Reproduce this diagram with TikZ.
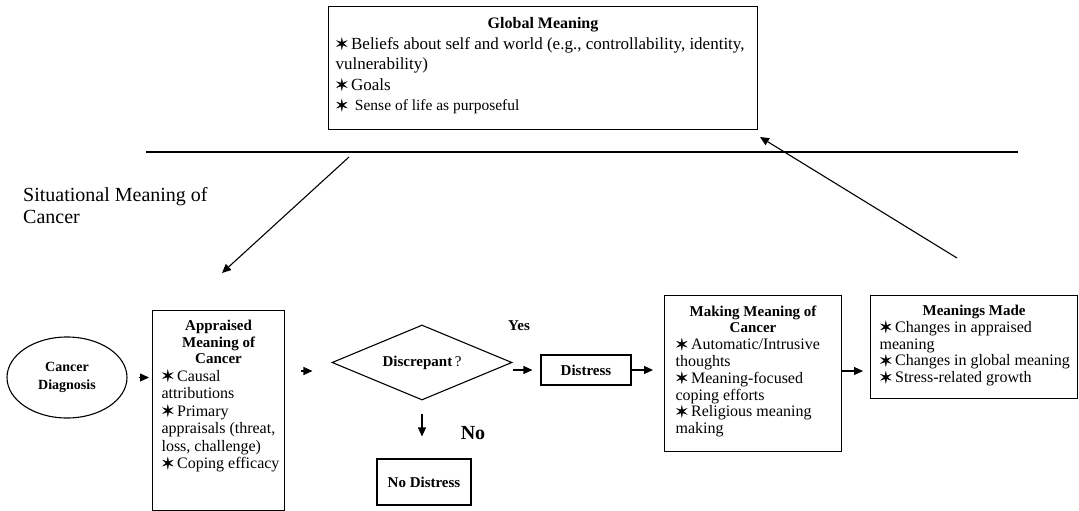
\documentclass[tikz,border=0pt]{standalone}
\usepackage{fontspec}
\setmainfont{Liberation Serif}
\newfontfamily\symf{DejaVu Sans}[FakeBold=2.5]
\usetikzlibrary{shapes.geometric,arrows.meta}
\newcommand\st{{\symf\fontsize{15}{15}\selectfont ✶}\hspace{3pt}}
\newcommand\fs[2]{\fontsize{#1}{#2}\selectfont}
\newcommand\boxtext[4]{\parbox[c][#1][t]{#2}{\hyphenpenalty=10000 \exhyphenpenalty=10000 \rule{0pt}{#3}#4}}
\tikzset{
  box/.style={draw, rectangle, line width=1.1pt, inner sep=0pt},
  arr/.style={line width=1.1pt, -{Triangle[length=9pt,width=8pt]}},
}
\begin{document}
\begin{tikzpicture}[x=1pt,y=-1pt]
\useasboundingbox (0,0) rectangle (1079,511);

% Global meaning
\node[box, anchor=north west, inner xsep=7pt] (gbox) at (328,6)
 {\boxtext{123pt}{415pt}{22pt}{{\centering\bfseries\fs{16}{17}Global Meaning\par}%
 \fs{17}{20.5}\raggedright\st Beliefs~about~self~and~world~(e.g.,~controllability,~identity,\\
 vulnerability)\\
 \st Goals\\
 {\fs{15.5}{20.5}\st\ Sense~of~life~as~purposeful}\par}};

\draw[line width=1.1pt] (146,152) -- (1018,152);

\node[anchor=base west, align=left, inner sep=0pt, font=\fs{20}{22}] (sit) at (23,223)
 {Situational Meaning of\\Cancer};

% Cancer diagnosis
\node[draw, ellipse, line width=1.1pt, minimum width=120pt, minimum height=81pt,
 inner sep=0pt, align=center, font=\bfseries\fs{14}{18}] (diag) at (67,377.5)
 {Cancer\\Diagnosis};

% Appraised meaning
\node[box, anchor=north west, inner xsep=9pt] (appr) at (152,310)
 {\boxtext{200pt}{114pt}{20pt}{{\centering\bfseries\fs{15}{16.5}Appraised\\Meaning~of\\Cancer\par}%
 \fs{16}{17.5}\raggedright\st Causal\\
 attributions\\
 \st Primary\\
 \mbox{appraisals (threat,}\\
 \mbox{loss, challenge)}\\
 \mbox{\st Coping efficacy}\par}};

% Diamond
\node[draw, diamond, aspect=2.4, minimum width=180pt, minimum height=75pt,
 inner sep=0pt, line width=1.1pt, font=\fs{15}{17}] (dia) at (422,362.5)
 {\textbf{Discrepant}\,?};

\node[font=\bfseries\fs{15}{17}] (yes) at (519,326) {Yes};
\node[font=\bfseries\fs{20}{22}] (no) at (473,433) {No};

\node[box, minimum width=90pt, minimum height=30pt, font=\bfseries\fs{15}{17}] (dist) at (586,370) {Distress};
\node[box, minimum width=94pt, minimum height=46pt, font=\bfseries\fs{15}{17}] (nd) at (424,482) {No Distress};

% Making meaning
\node[box, anchor=north west, inner xsep=11pt] (mk) at (664,295)
 {\boxtext{156pt}{155pt}{21pt}{{\centering\bfseries\fs{15}{16.3}Making~Meaning~of\\Cancer\par}%
 \fs{16}{16.8}\raggedright\mbox{\st Automatic/Intrusive}\\
 thoughts\\
 \mbox{\st Meaning-focused}\\
 coping~efforts\\
 \mbox{\st Religious meaning}\\
 making\par}};

% Meanings made
\node[box, anchor=north west, inner xsep=9pt] (mm) at (870,295)
 {\boxtext{103pt}{189pt}{20pt}{{\centering\bfseries\fs{15}{16.5}Meanings~Made\par}%
 \fs{16}{16.8}\raggedright\mbox{\st Changes in appraised}\\
 meaning\\
 \mbox{\st Changes in global meaning}\\
 \mbox{\st Stress-related growth}\par}};

% free ends of the two long arrows
\coordinate (g1) at (349,157);
\coordinate (g2) at (222,273);
\coordinate (m1) at (957,258);
\coordinate (m2) at (760,137);

% connectors
\draw[arr, shorten <=11pt, shorten >=3pt] (diag.east) -- (diag.east -| appr.west);
\draw[arr, shorten <=16pt, shorten >=19pt] (appr.east |- 0,371) -- (dia.west |- 0,371);
\draw[arr, shorten >=8pt] (dia.east |- dist.west) -- (dist.west);
\draw[arr, shorten <=13pt, shorten >=22pt] (dia.south) -- (dia.south |- nd.north);
\draw[arr, shorten >=11pt] (dist.east) -- (dist.east -| mk.west);
\draw[arr, shorten >=7pt] (mk.east |- 0,371) -- (mm.west |- 0,371);
\draw[arr] (g1) -- (g2);
\draw[arr] (m1) -- (m2);
\end{tikzpicture}
\end{document}
